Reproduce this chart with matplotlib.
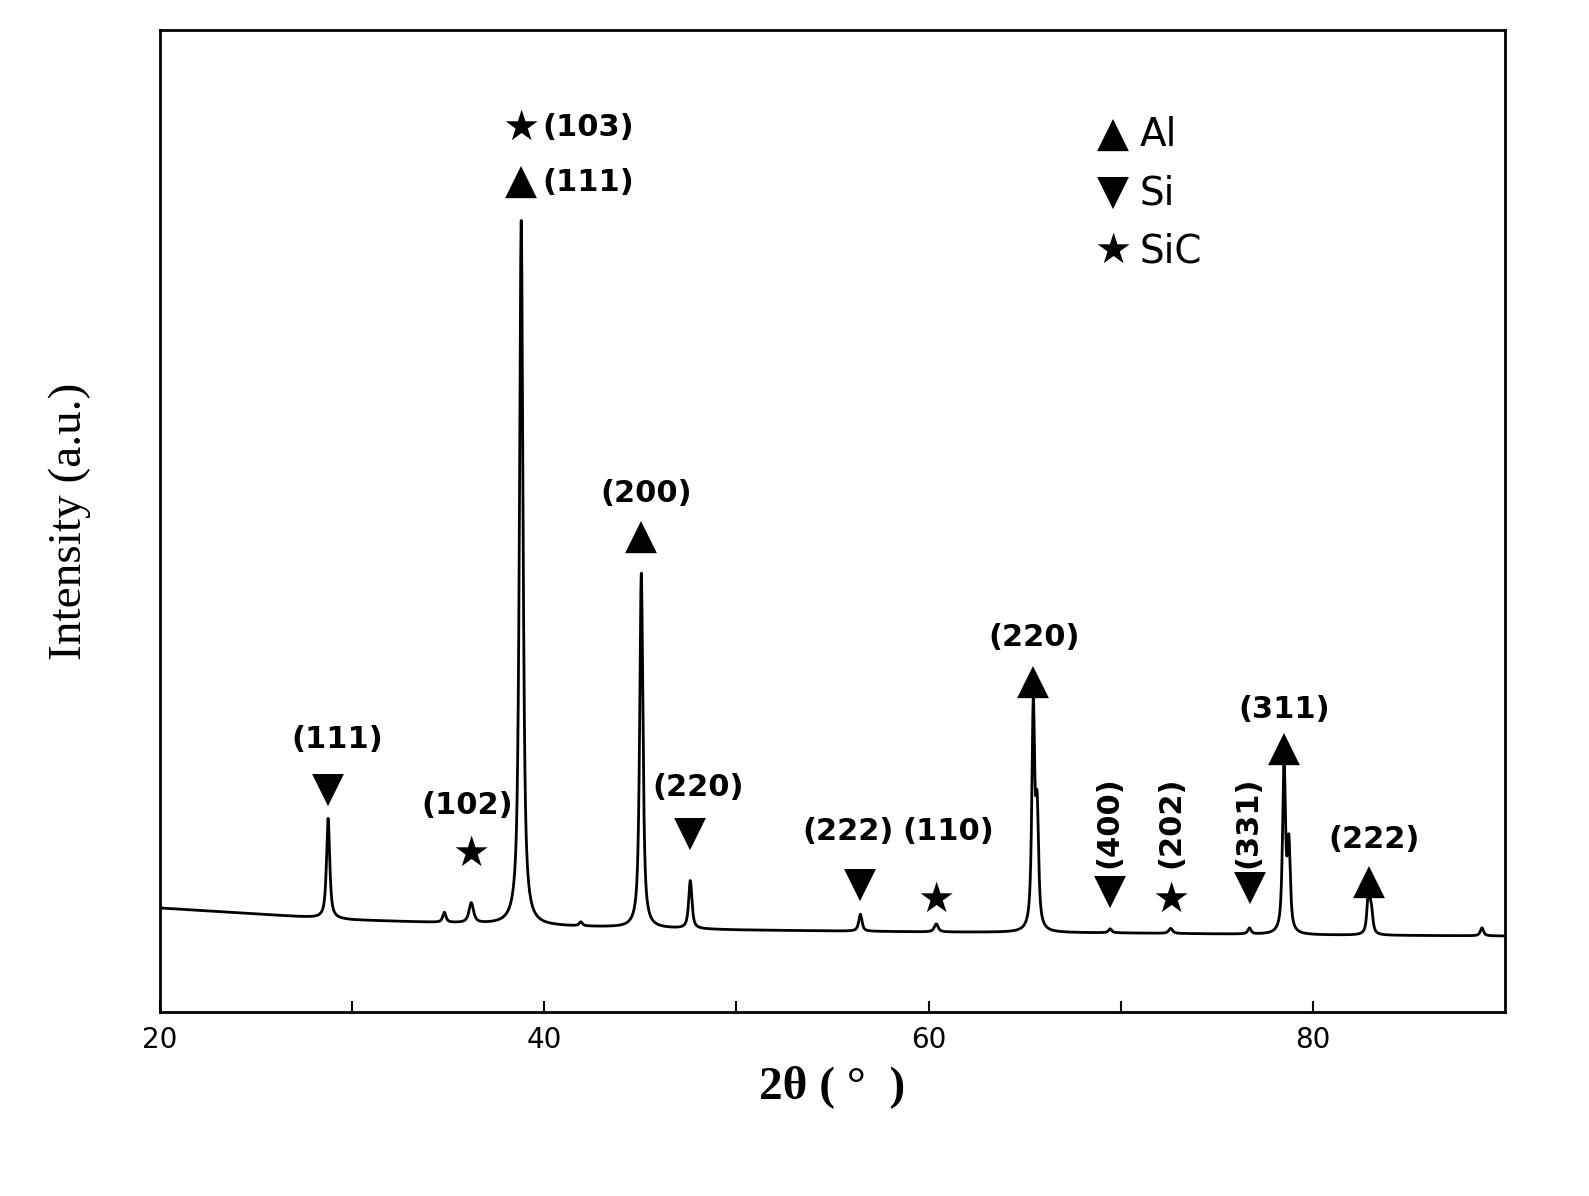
import numpy as np
import matplotlib
matplotlib.use("Agg")
import matplotlib.pyplot as plt

# peaks: position, height above baseline, half-width
peak_pos = [28.75, 34.8, 36.2, 38.8, 41.9, 45.05, 47.6, 56.45, 60.4, 65.45, 65.65, 69.45, 72.6, 76.7, 78.5, 78.75, 82.9, 83.05, 88.8]
peak_h   = [100, 10, 20, 705, 4, 355, 48, 17, 8, 220, 110, 4, 5, 6, 170, 85, 45, 20, 8]
peak_w   = [0.1, 0.1, 0.14, 0.11, 0.1, 0.1, 0.1, 0.1, 0.12, 0.09, 0.09, 0.1, 0.12, 0.1, 0.09, 0.09, 0.09, 0.09, 0.1]
base_x = [20, 25, 30, 40, 50, 60, 70, 80, 90]
base_y = [104, 98, 92, 86, 82, 80, 79, 77, 76]

# labels: marker x, marker y, marker, hkl text, text x, text y, rotation
marks = [
    (28.75, 222, "▼", "(111)", 29.2, 272, 0),
    (36.2, 158, "★", "(102)", 36.0, 207, 0),
    (38.8, 830, "▲", "(111)", 42.3, 830, 0),
    (38.8, 884, "★", "(103)", 42.3, 884, 0),
    (45.05, 475, "▲", "(200)", 45.3, 519, 0),
    (47.6, 178, "▼", "(220)", 48.0, 224, 0),
    (56.45, 127, "▼", "(222)", 55.8, 180, 0),
    (60.4, 112, "★", "(110)", 61.0, 180, 0),
    (65.45, 330, "▲", "(220)", 65.5, 374, 0),
    (69.45, 120, "▼", "(400)", 69.4, 190, 90),
    (72.6, 112, "★", "(202)", 72.6, 190, 90),
    (76.7, 124, "▼", "(331)", 76.6, 190, 90),
    (78.5, 263, "▲", "(311)", 78.5, 303, 0),
    (82.9, 130, "▲", "(222)", 83.2, 173, 0),
]

x = np.linspace(20, 90, 7000)
y = np.interp(x, base_x, base_y)
for p, h, w in zip(peak_pos, peak_h, peak_w):
    y = y + 0.8 * h / (1 + ((x - p) / w) ** 2) + 0.2 * h * np.exp(-((x - p) / (1.2 * w)) ** 2)

fig = plt.figure(figsize=(15.89, 11.96), dpi=100)
ax = fig.add_axes([160/1589, 1-1012/1196, 1345/1589, 982/1196])
ax.plot(x, y, color="black", lw=2)
ax.set_xlim(20, 90)
ax.set_ylim(0, 982)
ax.set_yticks([])
ax.set_xticks([20, 40, 60, 80])
ax.set_xticks([30, 50, 70], minor=True)
ax.tick_params(axis="x", which="both", direction="in", length=8, width=1.5, labelsize=20, pad=10)
for s in ax.spines.values():
    s.set_linewidth(2)
ax.set_xlabel("2θ ( °  )", fontsize=34, family="Liberation Serif", weight="bold", labelpad=8)
ax.set_ylabel("Intensity (a.u.)", fontsize=34, family="Liberation Serif", labelpad=50)

for mx, my, m, t, tx, ty, rot in marks:
    ax.text(mx, my, m, fontsize=30, ha="center", va="center", family="DejaVu Sans")
    ax.text(tx, ty, t, fontsize=22, ha="center", va="center", rotation=rot, weight="bold")

for i, (m, t) in enumerate([("▲", "Al"), ("▼", "Si"), ("★", "SiC")]):
    yy = 877 - i * 58
    ax.text(69.6, yy, m, fontsize=30, ha="center", va="center", family="DejaVu Sans")
    ax.text(71.0, yy, t, fontsize=28, ha="left", va="center")

fig.savefig("out.png", dpi=100)
